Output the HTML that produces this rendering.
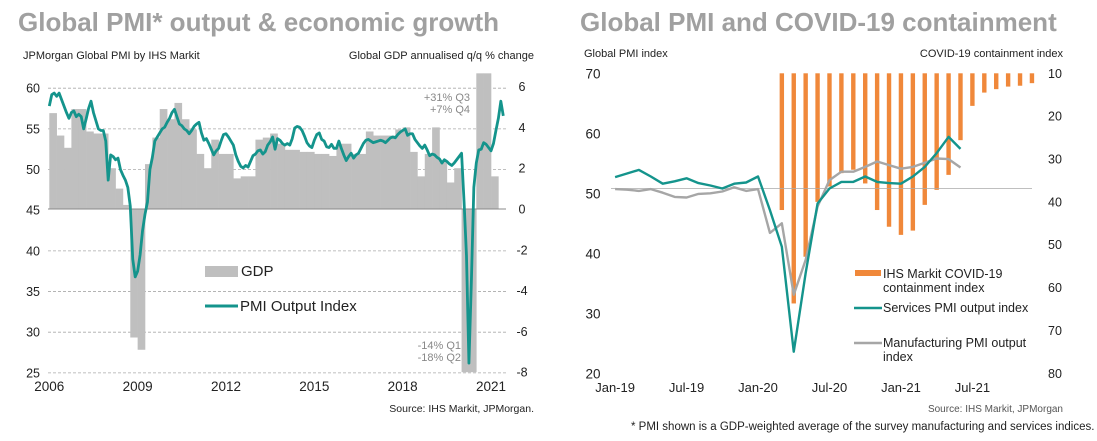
<!DOCTYPE html>
<html><head><meta charset="utf-8">
<style>
html,body{margin:0;padding:0;background:#fff;}
svg{display:block;font-family:"Liberation Sans",Arial,sans-serif;}
.t{font-size:11px;fill:#222;}
.tk{font-size:12.5px;fill:#222;}
.ttl{font-size:26px;font-weight:bold;fill:#a0a0a0;}
.ann{font-size:11px;fill:#888;}
.lg{font-size:12.5px;fill:#222;}
</style></head>
<body>
<svg id="chart" width="1097" height="441" viewBox="0 0 1097 441">
<text class="ttl" x="18" y="31">Global PMI* output &amp; economic growth</text>
<text class="ttl" x="580" y="31">Global PMI and COVID-19 containment</text>
<text class="t" x="23" y="59">JPMorgan Global PMI by IHS Markit</text>
<text class="t" x="534" y="59" text-anchor="end">Global GDP annualised q/q % change</text>
<text class="t" x="584" y="57">Global PMI index</text>
<text class="t" x="1063" y="57" text-anchor="end">COVID-19 containment index</text>
<g id="left"></g>
<g id="right"></g>
<text class="ann" x="470" y="101" text-anchor="end">+31% Q3</text>
<text class="ann" x="470" y="113" text-anchor="end">+7% Q4</text>
<text class="ann" x="461" y="349" text-anchor="end">-14% Q1</text>
<text class="ann" x="461" y="361" text-anchor="end">-18% Q2</text>
<rect x="205" y="266" width="33" height="11" fill="#bfbfbf"/>
<text class="lg" x="241" y="276" style="font-size:15px">GDP</text>
<line x1="205" y1="306" x2="238" y2="306" stroke="#14948c" stroke-width="3"/>
<text class="lg" x="240" y="311" style="font-size:15px">PMI Output Index</text>
<rect x="855" y="270" width="26" height="6" fill="#f0883a"/>
<text class="lg" x="883" y="278">IHS Markit COVID-19</text>
<text class="lg" x="883" y="292">containment index</text>
<line x1="854" y1="308" x2="882" y2="308" stroke="#14948c" stroke-width="2.5"/>
<text class="lg" x="883" y="312">Services PMI output index</text>
<line x1="854" y1="343" x2="882" y2="343" stroke="#a6a6a6" stroke-width="2.5"/>
<text class="lg" x="883" y="347">Manufacturing PMI output</text>
<text class="lg" x="883" y="361">index</text>
<text class="t" x="534" y="412" text-anchor="end" style="font-size:10.5px">Source: IHS Markit, JPMorgan.</text>
<text class="t" x="1063" y="412" text-anchor="end" style="font-size:10px;fill:#555">Source: IHS Markit, JPMorgan</text>
<text class="t" x="631" y="430" style="font-size:11.5px">* PMI shown is a GDP-weighted average of the survey manufacturing and services indices.</text>
</svg>
<script>
// ---- Left chart data ----
const gdpQuarters = Array.from({length:61},(_, i)=> (2006+Math.floor(i/4))+"Q"+(i%4+1));
const gdpValues = [4.7,3.6,3.0,4.9,4.9,3.8,3.7,3.7,2.0,1.0,0.2,-6.3,-6.9,2.2,3.5,4.9,4.4,5.2,4.4,3.9,2.7,2.0,3.4,2.7,2.7,1.5,1.6,1.6,3.4,3.5,3.7,3.2,2.9,2.9,2.8,2.8,2.7,2.7,2.6,3.2,3.2,2.7,2.7,3.8,3.6,3.6,3.6,3.9,4.0,2.8,1.6,2.7,4.0,2.3,1.3,2.0,-14,-18,31,7,1.6];
const pmiOutput = [57.8,59.2,59.4,59.0,59.4,58.6,57.8,57.0,56.3,57.0,57.2,56.5,56.8,56.5,55.0,56.2,57.5,58.4,57.0,56.0,55.0,54.8,54.8,53.5,48.7,51.8,51.6,51.2,51.4,50.0,49.3,48.7,47.8,45.5,39.0,36.8,37.5,39.5,42.5,44.5,46.0,50.0,51.5,53.5,54.0,54.5,55.0,55.2,55.8,56.3,57.0,57.4,56.5,55.6,55.4,55.0,54.8,54.4,54.8,55.3,55.6,55.8,54.5,53.6,53.8,53.2,52.5,51.8,52.3,52.6,53.5,54.3,54.4,54.0,53.5,53.0,51.8,51.0,50.4,50.2,50.5,50.3,51.0,51.7,51.9,52.3,52.4,51.9,52.2,53.0,53.4,54.0,52.5,53.8,53.6,53.2,53.0,53.2,53.0,53.8,55.1,55.3,55.2,54.8,54.1,53.3,52.9,52.7,53.6,54.3,54.5,53.7,53.5,52.8,52.7,53.1,52.6,52.6,53.5,52.6,51.8,51.1,51.6,52.0,51.4,51.8,52.0,52.6,53.2,53.6,53.7,53.5,53.3,53.4,53.5,53.6,53.5,53.3,53.6,53.9,54.0,53.9,54.3,54.6,54.8,55.0,54.2,54.4,54.4,53.7,53.3,52.9,52.6,53.0,52.4,51.7,51.9,51.8,51.5,51.3,50.8,51.2,51.0,50.7,50.5,50.8,51.2,51.6,52.0,46.1,39.4,26.2,36.3,47.8,50.8,52.4,52.5,53.3,53.1,52.7,52.3,53.2,54.8,56.3,58.4,56.6];
const leftTicks = [60,55,50,45,40,35,30,25];
const rightTicks = [6,4,2,0,-2,-4,-6,-8];
const yearLabels = ["2006","2009","2012","2015","2018","2021"];
// ---- Right chart data ----
const monthLabels = ["Jan-19","Jul-19","Jan-20","Jul-20","Jan-21","Jul-21"];
const services = [52.7,53.3,53.9,52.8,51.6,52.0,52.5,51.7,51.3,50.8,51.6,51.8,52.8,47.2,41.1,23.6,36.7,48.3,50.8,51.9,51.9,52.8,51.9,51.7,51.6,52.8,54.4,56.7,59.4,57.4];
const manufacturing = [50.7,50.6,50.4,50.7,50.1,49.4,49.3,49.9,50.0,50.3,51.0,50.4,50.7,43.4,45.0,33.1,38.9,47.8,52.2,53.6,53.6,54.4,55.3,54.7,54.1,54.4,55.1,55.8,55.7,54.3];
const containmentStart = 14;
const containment = [41.9,63.7,52.8,40.0,36.4,33.3,32.5,35.7,41.9,45.8,47.7,46.7,40.7,37.2,33.7,25.6,17.6,14.5,13.7,13.1,12.9,12.3];
const pmiTicks = [70,60,50,40,30,20];
const contTicks = [10,20,30,40,50,60,70,80];
const refLevel = 50.8;

const NS="http://www.w3.org/2000/svg";
function mk(tag, attrs, parent){const e=document.createElementNS(NS,tag);for(const k in attrs)e.setAttribute(k,attrs[k]);parent.appendChild(e);return e;}

// Left scales
const xL = m => 49.3 + m*2.454;
const yL = v => 210.2 - (v-45)*8.134;
const yG = g => 209 - Math.max(-8, Math.min(6.65, g))*20.4;
const L = document.getElementById('left');
leftTicks.forEach(v=>{
  if(v!==45){const g=mk('line',{x1:48,x2:506,y1:yL(v),y2:yL(v),stroke:'#aaa','stroke-dasharray':'3,2','stroke-width':0.8},L);
  
  }
  const t=mk('text',{x:40,y:yL(v)+4.5,'text-anchor':'end',class:'tk'},L);t.textContent=v;
  
  
});
rightTicks.forEach(v=>{
  const t=mk('text',{x:522,y:yG(v)+4.5,'text-anchor':'middle',class:'tk'},L);t.textContent=v;
  
  
});
yearLabels.forEach((s,i)=>{
  const t=mk('text',{x:xL((+s-2006)*12),y:391,'text-anchor':'middle',class:'tk',style:'font-size:13.5px'},L);t.textContent=s;
  
  
});
gdpValues.forEach((g,i)=>{
  const x0=xL(i*3), x1=xL(i*3+3), y0=yG(0), y1=yG(g);
  const r=mk('rect',{x:x0,width:x1-x0+0.3,y:Math.min(y0,y1),height:Math.abs(y1-y0),fill:'#bfbfbf'},L);
  
  
});
const zl=mk('line',{x1:48,x2:506,y1:yG(0),y2:yG(0),stroke:'#888','stroke-width':1},L);


const pl=mk('polyline',{points:pmiOutput.map((v,i)=>xL(i)+','+yL(v)).join(' '),fill:'none',stroke:'#14948c','stroke-width':2.8,'stroke-linejoin':'round'},L);



// Right scales
const xR = m => 615.1 + m*11.91;
const yR = v => 73.3 + (70-v)*6;
const yC = c => 73.3 + (c-10)*4.286;
const R = document.getElementById('right');
pmiTicks.forEach(v=>{
  const t=mk('text',{x:593,y:yR(v)+5,'text-anchor':'middle',class:'tk',style:'font-size:13.5px'},R);t.textContent=v;
  
  
});
contTicks.forEach(v=>{
  const t=mk('text',{x:1055,y:yC(v)+4.5,'text-anchor':'middle',class:'tk'},R);t.textContent=v;
  
  
});
monthLabels.forEach((s,i)=>{
  const t=mk('text',{x:xR(i*6),y:392,'text-anchor':'middle',class:'tk',style:'font-size:13px'},R);t.textContent=s;
  
  
});
containment.forEach((c,i)=>{
  const x=xR(containmentStart+i);
  const r=mk('rect',{x:x-2.2,width:4.4,y:yC(10),height:yC(c)-yC(10),fill:'#f0883a'},R);
  
  
});
const rl=mk('line',{x1:611,x2:1032,y1:yR(refLevel),y2:yR(refLevel),stroke:'#aaa','stroke-width':0.8},R);


const ml=mk('polyline',{points:manufacturing.map((v,i)=>xR(i)+','+yR(v)).join(' '),fill:'none',stroke:'#a6a6a6','stroke-width':2.4,'stroke-linejoin':'round'},R);


const sl=mk('polyline',{points:services.map((v,i)=>xR(i)+','+yR(v)).join(' '),fill:'none',stroke:'#14948c','stroke-width':2.4,'stroke-linejoin':'round'},R);


</script>
</body></html>
